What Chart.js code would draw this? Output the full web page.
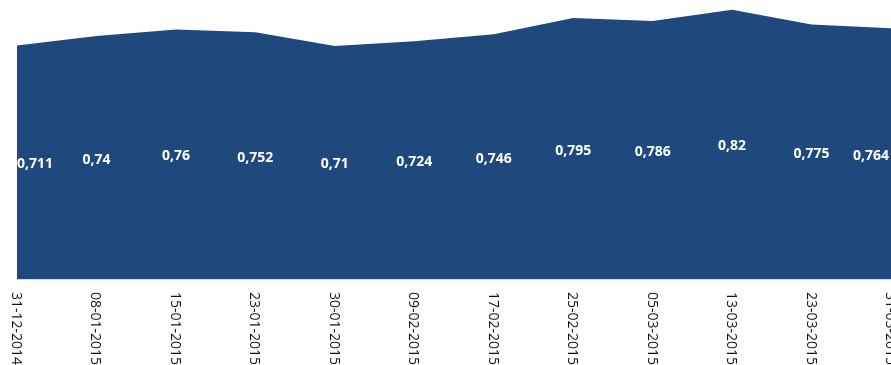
<!DOCTYPE html>
<html>
<head>
<meta charset="utf-8">
<script src="https://cdn.jsdelivr.net/npm/chart.js@4/dist/chart.umd.min.js"></script>
<style>
  html, body { margin: 0; padding: 0; background: #fff; overflow: hidden; }
  #wrap { width: 891px; height: 365px; }
</style>
</head>
<body>
<div id="wrap"><canvas id="chart" width="891" height="365"></canvas></div>
<script>
// dates on the x axis
const dates = ['31-12-2014', '08-01-2015', '15-01-2015', '23-01-2015', '30-01-2015', '09-02-2015',
  '17-02-2015', '25-02-2015', '05-03-2015', '13-03-2015', '23-03-2015', '31-03-2015'];
// values per date
const values = [0.711, 0.74, 0.76, 0.752, 0.71, 0.724, 0.746, 0.795, 0.786, 0.82, 0.775, 0.764];

const yMin = 0;
const yMax = 0.85;

const fmt = v => String(v).replace('.', ',');

// value labels inside the area + vertical date labels (top to bottom)
const labelPlugin = {
  id: 'areaLabels',
  afterDatasetsDraw(chart) {
    const { ctx, chartArea, scales: { x, y } } = chart;
    ctx.save();
    ctx.font = 'bold 14px "Open Sans"';
    ctx.fillStyle = '#ffffff';
    ctx.textAlign = 'center';
    ctx.textBaseline = 'middle';
    values.forEach((v, i) => {
      const text = fmt(v);
      const w = ctx.measureText(text).width;
      let px = x.getPixelForValue(i);
      px = Math.min(Math.max(px, chartArea.left + w / 2), chartArea.right - w / 2 - 2);
      const py = (y.getPixelForValue(v) + y.getPixelForValue(0)) / 2 + 2;
      ctx.fillText(text, px, py);
    });

    ctx.font = '14px "Open Sans"';
    ctx.fillStyle = '#111111';
    ctx.textAlign = 'left';
    dates.forEach((d, i) => {
      ctx.save();
      ctx.translate(x.getPixelForTick(i) - 1, chartArea.bottom + 13);
      ctx.rotate(Math.PI / 2);
      ctx.fillText(d, 0, 0);
      ctx.restore();
    });
    ctx.restore();
  }
};

function createDrawChart(ctx, chart_type, data, options, plugins) {
  return new Chart(ctx, {
    type: chart_type,
    data: data,
    options: options,
    plugins: plugins
  });
}

const areaOptions = {
  responsive: false,
  animation: false,
  devicePixelRatio: 1,
  layout: { padding: { left: 17, right: 0, top: 0, bottom: 86 } },
  plugins: {
    legend: { display: false },
    tooltip: { enabled: false },
    title: { display: false }
  },
  scales: {
    x: {
      offset: false,
      grid: { display: false, drawTicks: false },
      border: { display: true, color: '#d9d9d9', width: 1 },
      ticks: { display: false }
    },
    y: {
      display: false,
      min: yMin,
      max: yMax
    }
  }
};

createDrawChart(document.getElementById('chart'), 'line', {
  labels: dates,
  datasets: [{
    data: values,
    fill: 'origin',
    backgroundColor: '#1f497d',
    borderColor: '#1f497d',
    borderWidth: 0,
    pointRadius: 0,
    tension: 0
  }]
}, areaOptions, [labelPlugin]);
</script>
</body>
</html>
